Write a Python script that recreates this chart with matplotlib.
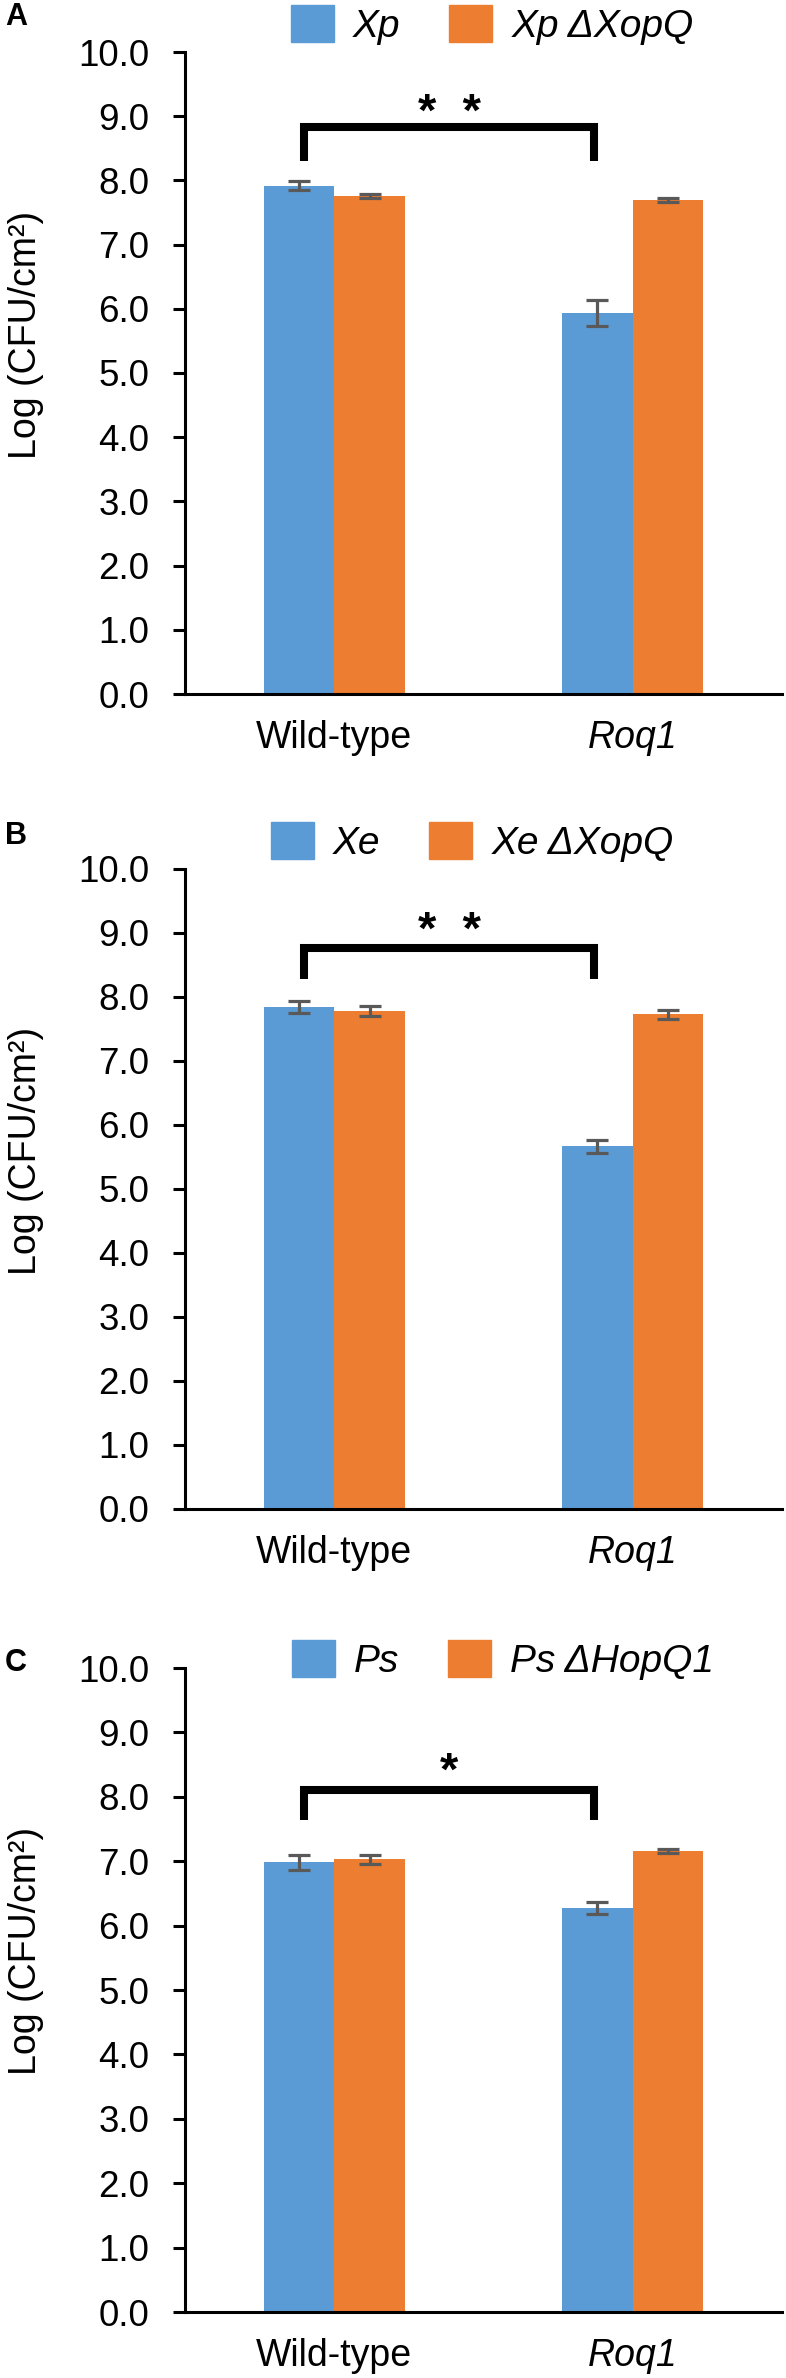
import numpy as np
import matplotlib
matplotlib.use('Agg')
import matplotlib.pyplot as plt
from matplotlib.patches import Patch

plt.rcParams['font.family'] = ['Liberation Sans', 'DejaVu Sans']

groups = ['Wild-type', 'Roq1']

# panel A: Xp
a_names = ['Xp', 'Xp ΔXopQ']
a_strain = [7.92, 5.93]
a_strain_err = [0.07, 0.20]
a_mut = [7.76, 7.69]
a_mut_err = [0.03, 0.03]
a_sig = '*  *'

# panel B: Xe
b_names = ['Xe', 'Xe ΔXopQ']
b_strain = [7.84, 5.67]
b_strain_err = [0.09, 0.10]
b_mut = [7.78, 7.73]
b_mut_err = [0.08, 0.07]
b_sig = '*  *'

# panel C: Ps
c_names = ['Ps', 'Ps ΔHopQ1']
c_strain = [6.98, 6.27]
c_strain_err = [0.12, 0.09]
c_mut = [7.03, 7.16]
c_mut_err = [0.07, 0.03]
c_sig = '*'

BLUE = '#5B9BD5'
ORANGE = '#ED7D31'
ERR = '#595959'
W, H = 786, 2378

fig = plt.figure(figsize=(W / 100, H / 100), dpi=100)


def panel(top, bottom, letter, letter_y, names, s_vals, s_err, m_vals, m_err,
          sig, br_top, br_leg, star_y, leg_x, leg_y):
    ax = fig.add_axes([185 / W, 1 - bottom / H, 597 / W, (bottom - top) / H])
    x = np.arange(len(groups))
    bw = 0.237
    ax.bar(x - bw / 2, s_vals, bw, color=BLUE)
    ax.bar(x + bw / 2, m_vals, bw, color=ORANGE)
    ax.errorbar(x - bw / 2, s_vals, yerr=s_err, fmt='none', ecolor=ERR,
                elinewidth=2.3, capsize=8, capthick=2.3)
    ax.errorbar(x + bw / 2, m_vals, yerr=m_err, fmt='none', ecolor=ERR,
                elinewidth=2.3, capsize=8, capthick=2.3)

    ax.set_xlim(-0.5, 1.5)
    ax.set_ylim(0, 10)
    yt = np.arange(0, 11)
    ax.set_yticks(yt)
    ax.set_yticklabels(['%.1f' % v for v in yt])
    ax.set_xticks(x)
    ax.set_xticklabels(groups)
    ax.get_xticklabels()[1].set_style('italic')
    ax.tick_params(axis='y', direction='out', length=8.6, width=2.2, pad=17, labelsize=26.5)
    ax.tick_params(axis='x', length=0, pad=19, labelsize=27)
    for s in ['top', 'right']:
        ax.spines[s].set_visible(False)
    ax.spines['left'].set_linewidth(2.2)
    ax.spines['bottom'].set_linewidth(2.2)

    ax.set_ylabel('Log (CFU/cm²)', fontsize=27, va='center')
    ax.yaxis.set_label_coords(-0.266, 0.56)

    # significance bracket
    xl, xr = -0.1, 0.87
    ax.plot([xl, xl, xr, xr], [br_leg, br_top, br_top, br_leg], color='black',
            lw=5.8, solid_joinstyle='miter', solid_capstyle='butt', clip_on=False)
    ax.text((xl + xr) / 2, star_y, sig, ha='center', va='baseline',
            fontsize=34, fontweight='bold')

    ax.legend(handles=[Patch(color=BLUE), Patch(color=ORANGE)], labels=names,
              loc='center left', bbox_to_anchor=(leg_x / W, 1 - leg_y / H),
              bbox_transform=fig.transFigure, ncol=2, frameon=False,
              prop={'style': 'italic', 'size': 28}, handlelength=1.1,
              handleheight=1.1, handletextpad=0.5, columnspacing=1.25,
              borderpad=0, borderaxespad=0)

    fig.text(5 / W, 1 - letter_y / H, letter, fontsize=22, fontweight='bold',
             ha='left', va='center')
    return ax


panel(52, 694, 'A', 17, a_names, a_strain, a_strain_err, a_mut, a_mut_err,
      a_sig, 8.83, 8.30, 8.85, 291, 25)
panel(869, 1509, 'B', 836, b_names, b_strain, b_strain_err, b_mut, b_mut_err,
      b_sig, 8.77, 8.28, 8.83, 271, 842)
panel(1668, 2312, 'C', 1663, c_names, c_strain, c_strain_err, c_mut, c_mut_err,
      c_sig, 8.10, 7.64, 8.18, 292, 1660)

fig.savefig('out.png', dpi=100)
